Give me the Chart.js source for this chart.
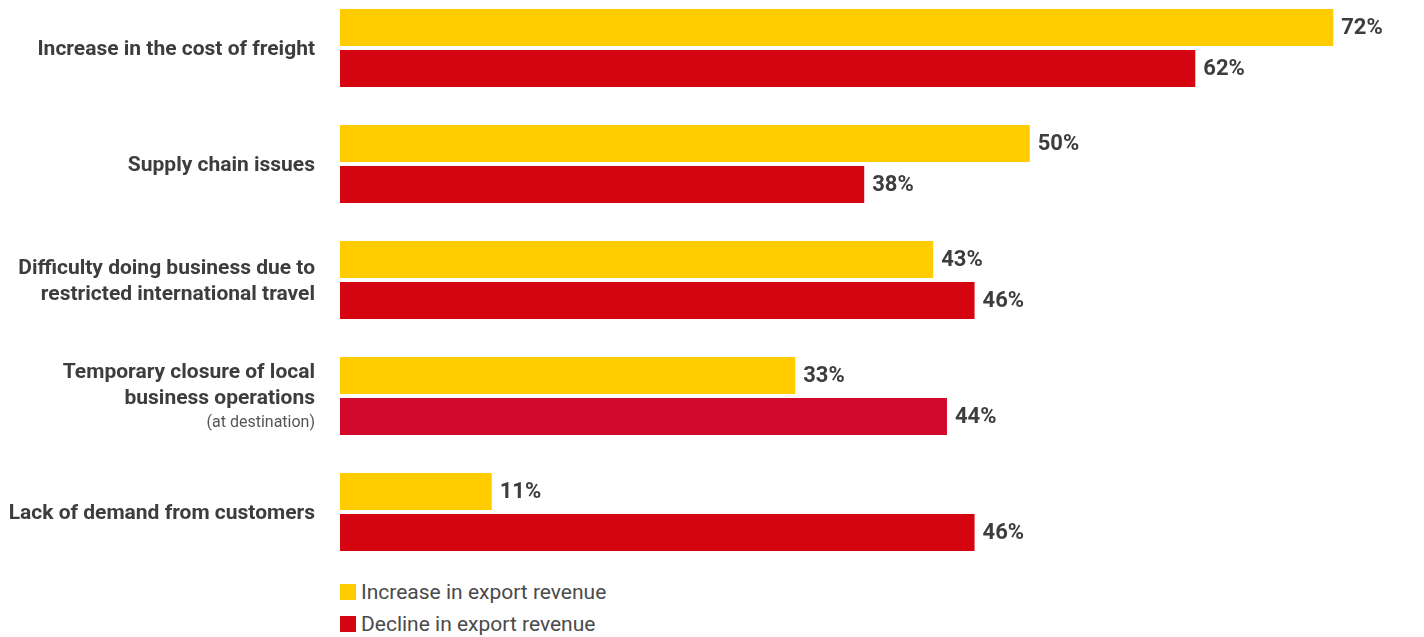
<!DOCTYPE html>
<html lang="en">
<head>
    <meta charset="UTF-8">
    <title>Export revenue challenges</title>
    <script src="https://cdn.jsdelivr.net/npm/chart.js"></script>
    <style>
        html, body {
            margin: 0;
            padding: 0;
            background: #ffffff;
            overflow: hidden;
        }
        .wrap {
            position: relative;
            width: 1424px;
            height: 637px;
        }
        .chart-box {
            position: absolute;
            left: 0;
            top: -10px;
            width: 1424px;
            height: 580px;
        }
        .legend {
            position: absolute;
            left: 340px;
            top: 576px;
            font-family: 'Roboto', sans-serif;
            font-size: 21px;
            color: #4a4a4a;
        }
        .legend div {
            display: flex;
            align-items: center;
            height: 32px;
        }
        .legend span.box {
            width: 16px;
            height: 16px;
            margin-right: 5px;
        }
    </style>
</head>
<body>
    <div class="wrap">
        <div class="chart-box"><canvas id="chart"></canvas></div>
        <div class="legend" id="legend"></div>
    </div>

    <script>
        // categories (one entry per line of the label) and the small note under some of them
        const categories = [
            ['Increase in the cost of freight'],
            ['Supply chain issues'],
            ['Difficulty doing business due to', 'restricted international travel'],
            ['Temporary closure of local', 'business operations'],
            ['Lack of demand from customers']
        ];
        const notes = ['', '', '', '(at destination)', ''];

        const seriesNames = ['Increase in export revenue', 'Decline in export revenue'];
        const increaseValues = [72, 50, 43, 33, 11];
        const declineValues = [62, 38, 46, 44, 46];

        const YELLOW = '#FFCC00';
        const RED = '#D40511';
        const declineColors = [RED, RED, RED, '#D2082D', RED];
        const TEXT = '#3d3d3d';

        // value labels at the end of each bar
        const valueLabels = {
            id: 'valueLabels',
            afterDatasetsDraw(chart) {
                const ctx = chart.ctx;
                ctx.save();
                ctx.font = 'bold 22px Roboto';
                ctx.fillStyle = TEXT;
                ctx.textAlign = 'left';
                ctx.textBaseline = 'middle';
                chart.data.datasets.forEach((ds, i) => {
                    chart.getDatasetMeta(i).data.forEach((bar, j) => {
                        ctx.fillText(ds.data[j] + '%', bar.x + 8, bar.y + 1);
                    });
                });
                ctx.restore();
            }
        };

        // category labels on the left, right aligned against the bars
        const categoryLabels = {
            id: 'categoryLabels',
            afterDraw(chart) {
                const ctx = chart.ctx;
                const yScale = chart.scales.y;
                const right = 315;
                const lineH = 26;
                const noteH = 24;
                ctx.save();
                ctx.textAlign = 'right';
                ctx.textBaseline = 'middle';
                categories.forEach((lines, i) => {
                    const cy = yScale.getPixelForValue(i);
                    const span = (lines.length - 1) * lineH + (notes[i] ? noteH : 0);
                    let y = cy - span / 2 + 2;
                    ctx.font = 'bold 21px Roboto';
                    ctx.fillStyle = TEXT;
                    lines.forEach(line => {
                        ctx.fillText(line, right, y);
                        y += lineH;
                    });
                    if (notes[i]) {
                        y += noteH - lineH;
                        ctx.font = '16px Roboto';
                        ctx.fillStyle = '#555555';
                        ctx.fillText(notes[i], right, y);
                    }
                });
                ctx.restore();
            }
        };

        const ctx = document.getElementById('chart').getContext('2d');
        const chart = new Chart(ctx, {
            type: 'bar',
            data: {
                labels: categories.map(c => c.join(' ')),
                datasets: [{
                    label: seriesNames[0],
                    data: increaseValues,
                    backgroundColor: YELLOW,
                    categoryPercentage: 0.707,
                    barPercentage: 0.9
                }, {
                    label: seriesNames[1],
                    data: declineValues,
                    backgroundColor: declineColors,
                    categoryPercentage: 0.707,
                    barPercentage: 0.9
                }]
            },
            options: {
                indexAxis: 'y',
                responsive: true,
                maintainAspectRatio: false,
                animation: false,
                layout: {
                    padding: { left: 340, right: 8, top: 0, bottom: 0 }
                },
                scales: {
                    x: { display: false, min: 0, max: 78 },
                    y: { display: false }
                },
                plugins: {
                    legend: { display: false },
                    tooltip: { enabled: false }
                }
            },
            plugins: [valueLabels, categoryLabels]
        });

        // legend under the bars, one series per row
        const legend = document.getElementById('legend');
        chart.data.datasets.forEach(ds => {
            const color = Array.isArray(ds.backgroundColor) ? ds.backgroundColor[0] : ds.backgroundColor;
            legend.innerHTML += `<div><span class="box" style="background:${color}"></span>${ds.label}</div>`;
        });
    </script>
</body>
</html>
